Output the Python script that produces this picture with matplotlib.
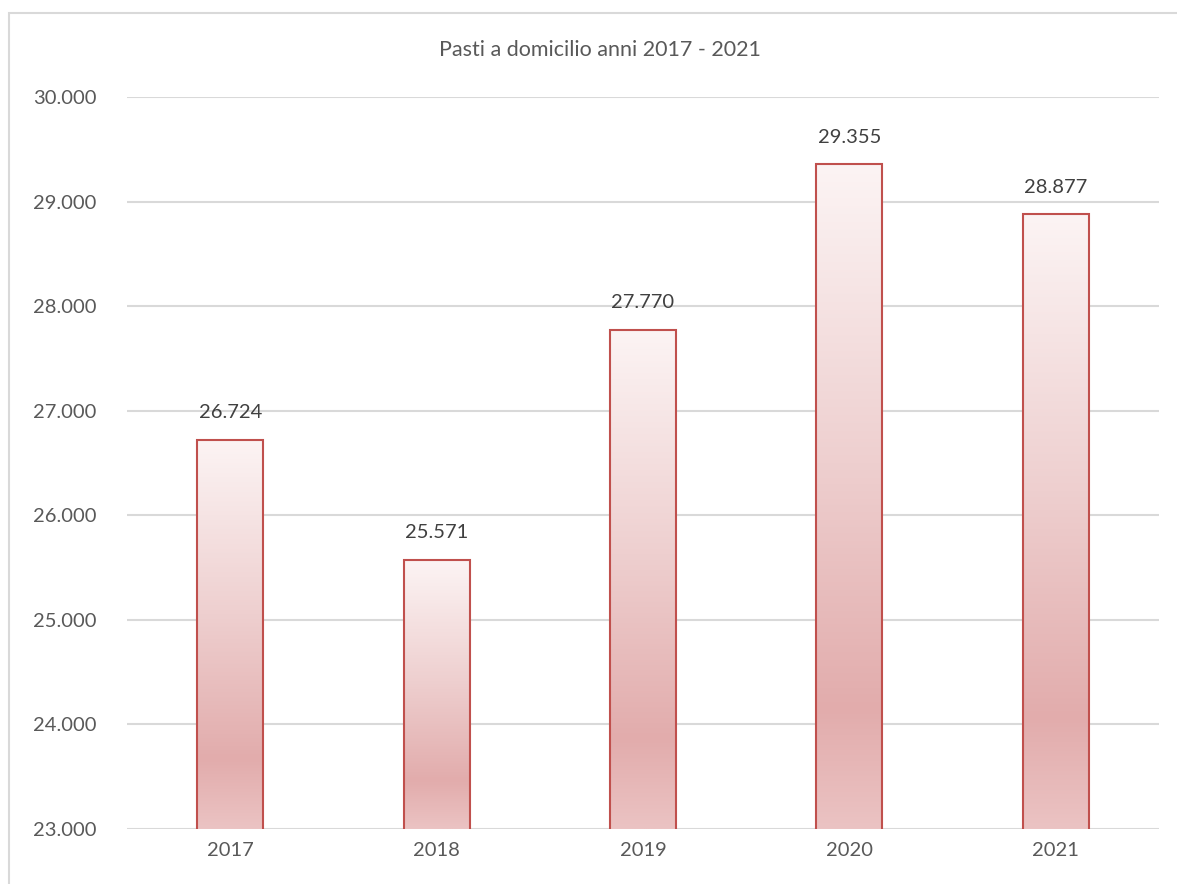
import numpy as np
import matplotlib.pyplot as plt
from matplotlib.colors import LinearSegmentedColormap
from matplotlib.patches import Rectangle
from matplotlib.ticker import FuncFormatter

anni = ['2017', '2018', '2019', '2020', '2021']
pasti = [26724, 25571, 27770, 29355, 28877]
titolo = 'Pasti a domicilio anni 2017 - 2021'

plt.rcParams['font.family'] = ['Lato', 'DejaVu Sans']

def punti(v):
    # separatore delle migliaia all'italiana
    return f'{int(v):,}'.replace(',', '.')

fig = plt.figure(figsize=(11.77, 8.84), dpi=100)
ax = fig.add_axes([127 / 1177, 1 - 829 / 884, 1032 / 1177, 732 / 884])

# bordo del grafico
fig.patches.append(Rectangle((9 / 1177, -0.1), 1.2, 1 - 13 / 884 + 0.1,
                             transform=fig.transFigure, fill=False,
                             edgecolor='#d9d9d9', linewidth=1.5))

x = np.arange(len(anni))
barre = ax.bar(x, pasti, width=0.32, bottom=0, color='none',
               edgecolor='#c0504d', linewidth=1.5, zorder=3)

# sfumatura verticale di ogni barra
cmap = LinearSegmentedColormap.from_list('sfumatura', [
    (0.0, '#ebc3c3'), (0.18, '#e2acac'), (0.55, '#eecfcf'), (1.0, '#fcf4f4')])
grad = np.linspace(0, 1, 256).reshape(-1, 1)
y0 = 23000
for b, v in zip(barre, pasti):
    xl = b.get_x()
    im = ax.imshow(grad, cmap=cmap, origin='lower', aspect='auto',
                   extent=[xl, xl + b.get_width(), y0, v], zorder=2)
    im.set_clip_path(b)
    ax.text(b.get_x() + b.get_width() / 2, v + 180, punti(v),
            ha='center', va='bottom', fontsize=14.5, color='#404040')

ax.set_xlim(-0.5, len(anni) - 0.5)
ax.set_ylim(23000, 30000)
ax.set_xticks(x)
ax.set_xticklabels(anni)
ax.set_yticks(np.arange(23000, 30001, 1000))
ax.yaxis.set_major_formatter(FuncFormatter(lambda v, p: punti(v)))
ax.tick_params(length=0, labelsize=14.5, labelcolor='#595959')
ax.tick_params(axis='y', pad=22)
ax.tick_params(axis='x', pad=9)
ax.grid(axis='y', color='#d9d9d9', linewidth=1.5, zorder=0)
ax.set_axisbelow(True)
for s in ax.spines.values():
    s.set_visible(False)

fig.text(600 / 1177, 1 - 50 / 884, titolo, ha='center', va='center',
         fontsize=15.5, color='#595959')

fig.savefig('out.png', dpi=100)
